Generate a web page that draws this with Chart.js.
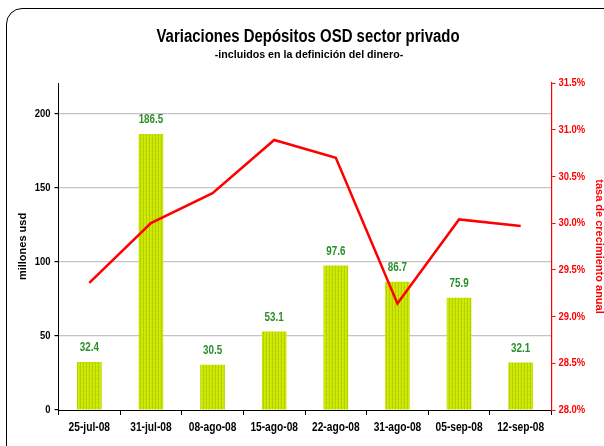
<!DOCTYPE html>
<html>
<head>
<meta charset="utf-8">
<script src="https://cdn.jsdelivr.net/npm/chart.js@4/dist/chart.umd.min.js"></script>
<style>
  html, body { margin: 0; padding: 0; background: #fff; overflow: hidden; }
  #wrap { position: relative; width: 604px; height: 446px; }
  #frame { position: absolute; left: 6px; top: 8px; width: 640px; height: 480px;
           border: 1.5px solid #000; border-radius: 16px; box-sizing: border-box; pointer-events: none; }
  canvas { position: absolute; left: 0; top: 0; }
</style>
</head>
<body>
<div id="wrap">
  <canvas id="c" width="604" height="446"></canvas>
  <div id="frame"></div>
</div>
<script>
const categories = ['25-jul-08','31-jul-08','08-ago-08','15-ago-08','22-ago-08','31-ago-08','05-sep-08','12-sep-08'];
const deposits = [32.4, 186.5, 30.5, 53.1, 97.6, 86.7, 75.9, 32.1];
const growthRate = [29.36, 30.00, 30.32, 30.89, 30.70, 29.14, 30.04, 29.97];
const leftTicks = [0, 50, 100, 150, 200];
const rightTicks = [28.0, 28.5, 29.0, 29.5, 30.0, 30.5, 31.0, 31.5];
const titleText = 'Variaciones Depósitos OSD sector privado';
const subtitleText = '-incluidos en la definición del dinero-';
const leftAxisTitle = 'millones usd';
const rightAxisTitle = 'tasa de crecimiento anual';

const SANS = '"Liberation Sans", Arial, sans-serif';

// striped bar fill
const pc = document.createElement('canvas');
pc.width = 3; pc.height = 4;
const pctx = pc.getContext('2d');
pctx.fillStyle = '#cbe600'; pctx.fillRect(0, 0, 3, 4);
pctx.fillStyle = '#b4d000'; pctx.fillRect(2, 0, 1, 4);
pctx.fillStyle = '#d6ef10'; pctx.fillRect(0, 0, 1, 2);
const ctx = document.getElementById('c').getContext('2d');
const barPattern = ctx.createPattern(pc, 'repeat');

function narrowText(c, text, x, y, align, font, color, sx) {
  c.save();
  c.font = font;
  c.fillStyle = color;
  c.textAlign = align;
  c.textBaseline = 'middle';
  c.translate(x, y);
  c.scale(sx, 1);
  c.fillText(text, 0, 0);
  c.restore();
}

const textPlugin = {
  id: 'texts',
  afterDraw(chart) {
    const c = chart.ctx;
    // titles
    c.save();
    c.fillStyle = '#000';
    c.textAlign = 'center';
    c.textBaseline = 'alphabetic';
    c.translate(308, 42);
    c.scale(0.83, 1);
    c.font = 'bold 18px ' + SANS;
    c.fillText(titleText, 0, 0);
    c.restore();
    c.save();
    c.fillStyle = '#000';
    c.textAlign = 'center';
    c.textBaseline = 'alphabetic';
    c.translate(309, 57.5);
    c.scale(0.97, 1);
    c.font = 'bold 11px ' + SANS;
    c.fillText(subtitleText, 0, 0);
    c.restore();

    const xs = chart.scales.x, ys = chart.scales.y, y1 = chart.scales.y1;
    const tickFont = 'bold 12px ' + SANS;
    categories.forEach((lab, i) => {
      narrowText(c, lab, xs.getPixelForValue(i), xs.top + 17.5, 'center', tickFont, '#000', 0.85);
    });
    leftTicks.forEach(v => {
      narrowText(c, String(v), ys.right - 8, ys.getPixelForValue(v), 'right', 'bold 11.5px ' + SANS, '#000', 0.82);
    });
    rightTicks.forEach(v => {
      narrowText(c, v.toFixed(1) + '%', y1.left + 7, y1.getPixelForValue(v), 'left', 'bold 11.5px ' + SANS, '#ff0000', 0.82);
    });
  }
};

const barLabels = {
  id: 'barLabels',
  afterDatasetsDraw(chart) {
    const meta = chart.getDatasetMeta(1);
    const c = chart.ctx;
    meta.data.forEach((bar, i) => {
      narrowText(c, deposits[i].toFixed(1), bar.x, bar.y - 14, 'center', 'bold 12px ' + SANS, '#2a8f2a', 0.82);
    });
  }
};

new Chart(ctx, {
  data: {
    labels: categories,
    datasets: [
      {
        type: 'line',
        data: growthRate,
        yAxisID: 'y1',
        borderColor: '#ff0000',
        borderWidth: 2.5,
        pointRadius: 0,
        tension: 0,
        order: 0
      },
      {
        type: 'bar',
        data: deposits,
        yAxisID: 'y',
        backgroundColor: barPattern,
        borderWidth: 0,
        categoryPercentage: 1,
        barPercentage: 0.4,
        order: 1
      }
    ]
  },
  options: {
    responsive: false,
    animation: false,
    devicePixelRatio: 1,
    layout: { padding: { top: 83, left: 0, right: 0, bottom: 0 } },
    plugins: { legend: { display: false }, tooltip: { enabled: false }, title: { display: false } },
    scales: {
      x: {
        grid: { offset: true, drawOnChartArea: false, tickLength: 5, color: '#000' },
        border: { color: '#000', width: 1 },
        ticks: { color: 'rgba(0,0,0,0)', font: { family: SANS, size: 12, weight: 'bold' }, padding: 5, maxRotation: 0, autoSkip: false },
        afterFit(s) { s.height = 36; }
      },
      y: {
        position: 'left',
        min: 0, max: 221,
        afterBuildTicks(s) { s.ticks = s.ticks.filter(t => t.value % 50 === 0); },
        ticks: { stepSize: 50, color: 'rgba(0,0,0,0)', font: { family: SANS, size: 11, weight: 'bold' }, padding: 3 },
        grid: {
          color: c => (c.tick && c.tick.value === 0) ? 'rgba(0,0,0,0)' : '#c4c4c4',
          tickColor: '#000', tickLength: 4, lineWidth: 1.2
        },
        border: { color: '#000', width: 1 },
        title: { display: true, text: leftAxisTitle, color: '#000', font: { family: SANS, size: 11, weight: 'bold' }, padding: { top: 16, bottom: 0 } },
        afterFit(s) { s.width = 58.5; }
      },
      y1: {
        position: 'right',
        min: 28, max: 31.5,
        ticks: { stepSize: 0.5, color: 'rgba(0,0,0,0)', font: { family: SANS, size: 11, weight: 'bold' }, padding: 3,
                 callback: v => v.toFixed(1) + '%' },
        grid: { drawOnChartArea: false, tickColor: '#ff0000', tickLength: 4 },
        border: { color: '#ff0000', width: 1.2 },
        title: { display: true, text: rightAxisTitle, color: '#ff0000', font: { family: SANS, size: 11, weight: 'bold' }, padding: { top: -2, bottom: 0 } },
        afterFit(s) { s.width = 52.5; }
      }
    }
  },
  plugins: [textPlugin, barLabels]
});
</script>
</body>
</html>
